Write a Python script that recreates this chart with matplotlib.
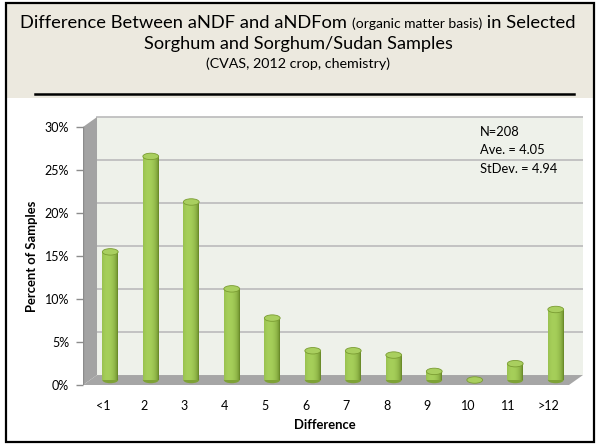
import numpy as np
import matplotlib
matplotlib.use("Agg")
import matplotlib.pyplot as plt
from matplotlib.patches import Polygon, Rectangle, Ellipse
from matplotlib.ticker import FuncFormatter

plt.rcParams['font.family'] = ['Lato', 'DejaVu Sans']

categories = ['<1', '2', '3', '4', '5', '6', '7', '8', '9', '10', '11', '>12']
percent = [14.9, 26.0, 20.7, 10.6, 7.2, 3.4, 3.4, 2.9, 1.0, 0.0, 1.9, 8.2]
stats = ['N=208', 'Ave. = 4.05', 'StDev. = 4.94']
yticks = [0, 5, 10, 15, 20, 25, 30]

W, H = 596, 444
fig = plt.figure(figsize=(W / 100, H / 100), dpi=100)
fig.patch.set_facecolor('white')

# frame and title band
fig.add_artist(Rectangle((7 / W, (H - 98) / H), 586 / W, 95 / H, transform=fig.transFigure,
                         facecolor='#ECE9DF', edgecolor='none', zorder=-2))
fig.add_artist(Rectangle((6 / W, 2 / H), 588 / W, 439 / H, transform=fig.transFigure,
                         facecolor='none', edgecolor='black', lw=1.6, zorder=-1))
fig.add_artist(plt.Line2D([35 / W, 574 / W], [(H - 94) / H] * 2, transform=fig.transFigure,
                          color='black', lw=1.8, zorder=-1))

# title, first line has a smaller piece in the middle
renderer = fig.canvas.get_renderer()
parts = [('Difference Between aNDF and aNDFom ', 13.2), ('(organic matter basis)', 10.0),
         (' in Selected', 13.2)]
texts = [fig.text(0, 1 - 28 / H, s, fontsize=fs, va='baseline', ha='left') for s, fs in parts]
widths = [t.get_window_extent(renderer).width for t in texts]
x0 = (W - sum(widths)) / 2 / W
for t, w in zip(texts, widths):
    t.set_x(x0)
    x0 += w / W
fig.text(0.5, 1 - 44 / H, 'Sorghum and Sorghum/Sudan Samples', fontsize=13.1, ha='center', va='center')
fig.text(0.5, 1 - 64 / H, '(CVAS, 2012 crop, chemistry)', fontsize=10.3, ha='center', va='center')

# plot area: front axis at px 83, back wall right at 583, 0% at 385, wall top at 115
ax = fig.add_axes([83 / W, (H - 385) / H, 500 / W, 270 / H])
n = len(categories)
dx, dy = 0.346, 1.16
ax.set_facecolor('none')
for s in ax.spines.values():
    s.set_visible(False)

x_left, x_right = -0.5, n - 0.5
# back wall
ax.add_patch(Rectangle((x_left + dx, dy), x_right - x_left, 30, facecolor='#EEF1EA',
                       edgecolor='none', zorder=0))
for v in yticks[1:]:
    ax.plot([x_left + dx, x_right + dx], [v + dy, v + dy], color='#BFBFBF', lw=1.3, zorder=1)
# side wall
ax.add_patch(Polygon([(x_left, 0), (x_left, 30), (x_left + dx, 30 + dy), (x_left + dx, dy)],
                     closed=True, facecolor='#A3A3A3', edgecolor='none', zorder=2))
# floor
ax.add_patch(Polygon([(x_left, 0), (x_right, 0), (x_right + dx, dy), (x_left + dx, dy)],
                     closed=True, facecolor='#A6A6A6', edgecolor='none', zorder=2))
ax.plot([x_left, x_left], [0, 30], color='#8C8C8C', lw=1, zorder=3)

# cylinders
xs = np.arange(n) + dx / 2
base = dy / 2
bw = 0.39
eh = 0.75
bars = ax.bar(xs, percent, width=bw, bottom=base, color='#93B944', edgecolor='none', zorder=4)
grad = np.linspace(0, 1, 64)
shade = np.clip(1 - ((grad - 0.35) / 0.65) ** 2, 0, 1) ** 0.6
cmap = matplotlib.colors.LinearSegmentedColormap.from_list('cyl', ['#5E7D1F', '#A6CF5A'])
for b, v in zip(bars, percent):
    x, w = b.get_x(), b.get_width()
    if v > 0:
        im = ax.imshow(shade[None, :], cmap=cmap, vmin=0, vmax=1, aspect='auto',
                       extent=[x, x + w, base, base + v], zorder=4, interpolation='bilinear')
        im.set_clip_path(b)
        ax.add_patch(Ellipse((x + w / 2, base), w, eh, facecolor='#7EA236', edgecolor='none', zorder=3.9))
    ax.add_patch(Ellipse((x + w / 2, base + v), w, eh, facecolor='#A9CF5F', edgecolor='#7A9C32',
                         lw=0.6, zorder=5))
ax.set_xlim(-0.5, n - 0.5 + dx)
ax.set_ylim(0, 270 / 8.6)

ax.set_xticks(np.arange(n))
ax.set_xticklabels(categories)
ax.set_yticks(yticks)
ax.yaxis.set_major_formatter(FuncFormatter(lambda v, p: f'{v:.0f}%'))
ax.tick_params(axis='x', length=0, pad=11, labelsize=9)
ax.tick_params(axis='y', length=5, width=1, color='#8C8C8C', pad=5, labelsize=9)

fig.text(32 / W, 1 - 256 / H, 'Percent of Samples', rotation=90, fontsize=9.4, fontweight='bold',
         ha='center', va='center')
fig.text(325 / W, 1 - 425 / H, 'Difference', fontsize=9.4, fontweight='bold', ha='center', va='center')

for i, s in enumerate(stats):
    fig.text(480 / W, 1 - (132 + i * 18.5) / H, s, fontsize=9.3, ha='left', va='center')

fig.savefig('out.png', dpi=100, facecolor='white')
